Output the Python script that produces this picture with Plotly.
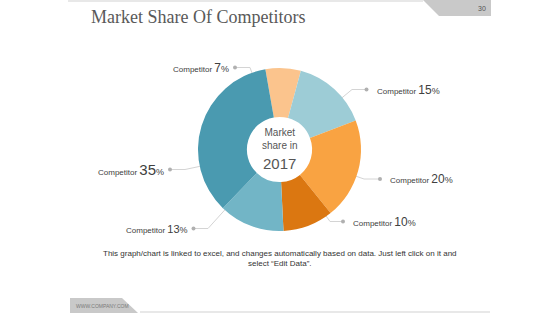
import math
import plotly.graph_objects as go

# ---- data ----
competitors = ["Competitor", "Competitor", "Competitor", "Competitor", "Competitor", "Competitor"]
shares = [7, 15, 20, 10, 13, 35]
center_lines = ["Market", "share in", "2017"]
title_text = "Market Share Of Competitors"
footer_text = "This graph/chart is linked to excel, and changes automatically based on data. Just left click on it and<br>select \u201cEdit Data\u201d."
page_no = "30"
site = "WWW.COMPANY.COM"

# ---- style / layout ----
colors = ["#FBC48D", "#9DCCD6", "#F9A342", "#DB7711", "#72B5C6", "#4A9AB0"]
W, H = 560, 315
cx, cy, R = 279.5, 149.5, 81.5
rotation = -10
# label callout layout: (dot x, dot y, elbow x, elbow y, side, number font size)
callouts = [
    (235, 67.5, 250, 67.5, "left", 12),
    (366.5, 89.5, 352, 89.5, "right", 12),
    (380, 179, 364, 179, "right", 12),
    (343, 221.5, 330, 221.5, "right", 12),
    (193.5, 228.5, 208, 228.5, "left", 11),
    (170, 169.5, 185, 169.5, "left", 15),
]

fig = go.Figure()

# leader lines and dots (drawn under the pie)
for (dx, dy, ex, ey, side, fs) in callouts:
    vx, vy = ex - cx, ey - cy
    n = math.hypot(vx, vy)
    px, py = cx + vx / n * (R - 2), cy + vy / n * (R - 2)
    fig.add_trace(go.Scatter(x=[dx, ex, px], y=[dy, ey, py], mode="lines",
                             line=dict(color="#d4d4d4", width=1), hoverinfo="skip",
                             showlegend=False))
fig.add_trace(go.Scatter(x=[c[0] for c in callouts], y=[c[1] for c in callouts],
                         mode="markers", marker=dict(color="#b0b0b0", size=4),
                         hoverinfo="skip", showlegend=False))

fig.add_trace(go.Pie(
    labels=[f"{c} {v}%" for c, v in zip(competitors, shares)],
    values=shares, sort=False, direction="clockwise", rotation=rotation,
    hole=0.4, textinfo="none", hoverinfo="skip",
    marker=dict(colors=colors, line=dict(width=0)),
    domain=dict(x=[(cx - R) / W, (cx + R) / W], y=[1 - (cy + R) / H, 1 - (cy - R) / H]),
    showlegend=False,
))

annotations = []
for (dx, dy, ex, ey, side, fs), name, v in zip(callouts, competitors, shares):
    txt = (f"<span style='font-size:8px'>{name} </span>"
           f"<span style='font-size:{fs}px'>{v}</span>"
           f"<span style='font-size:9px'>%</span>")
    if side == "left":
        annotations.append(dict(x=dx - 4, y=dy, xref="x", yref="y", text=txt, showarrow=False,
                                xanchor="right", yanchor="middle",
                                font=dict(family="Liberation Sans, Arial", color="#404040", size=9)))
    else:
        annotations.append(dict(x=dx + 8, y=dy, xref="x", yref="y", text=txt, showarrow=False,
                                xanchor="left", yanchor="middle",
                                font=dict(family="Liberation Sans, Arial", color="#404040", size=9)))

# center text
annotations.append(dict(x=cx, y=139, xref="x", yref="y", showarrow=False,
                        text=f"{center_lines[0]}<br>{center_lines[1]}", xanchor="center", yanchor="middle",
                        font=dict(family="Liberation Sans, Arial", size=10, color="#555555")))
annotations.append(dict(x=cx, y=163, xref="x", yref="y", showarrow=False,
                        text=center_lines[2], xanchor="center", yanchor="middle",
                        font=dict(family="Liberation Sans, Arial", size=15, color="#555555")))
# title
annotations.append(dict(x=89, y=17, xref="x", yref="y", showarrow=False, text=title_text,
                        xanchor="left", yanchor="middle",
                        font=dict(family="Liberation Serif, serif", size=18, color="#595959")))
# footer
annotations.append(dict(x=280, y=258.5, xref="x", yref="y", showarrow=False, text=footer_text,
                        xanchor="center", yanchor="middle", align="center",
                        font=dict(family="Liberation Sans, Arial", size=8, color="#333333")))
# page number
annotations.append(dict(x=482, y=8, xref="x", yref="y", showarrow=False, text=page_no,
                        xanchor="center", yanchor="middle",
                        font=dict(family="Liberation Sans, Arial", size=7, color="#555555")))
annotations.append(dict(x=74, y=305.5, xref="x", yref="y", showarrow=False, text=site,
                        xanchor="left", yanchor="middle",
                        font=dict(family="Liberation Sans, Arial", size=5, color="#7a7a7a")))

shapes = [
    dict(type="rect", x0=68, x1=423, y0=0, y1=2, xref="x", yref="y",
         fillcolor="#e8e8e8", line=dict(width=0), layer="below"),
    dict(type="path", path="M 423 0 L 491 0 L 491 16 L 439 16 Z", xref="x", yref="y",
         fillcolor="#c9c9c9", line=dict(width=0), layer="below"),
    dict(type="rect", x0=140, x1=490, y0=311, y1=313, xref="x", yref="y",
         fillcolor="#e8e8e8", line=dict(width=0), layer="below"),
    dict(type="path", path="M 70 298 L 122 298 L 138 313 L 70 313 Z", xref="x", yref="y",
         fillcolor="#c9c9c9", line=dict(width=0), layer="below"),
]

fig.update_layout(
    width=W, height=H, margin=dict(l=0, r=0, t=0, b=0),
    paper_bgcolor="white", plot_bgcolor="white",
    xaxis=dict(range=[0, W], visible=False, fixedrange=True, domain=[0, 1]),
    yaxis=dict(range=[H, 0], visible=False, fixedrange=True, domain=[0, 1]),
    annotations=annotations, shapes=shapes, showlegend=False,
)

fig.write_html("out.html")
